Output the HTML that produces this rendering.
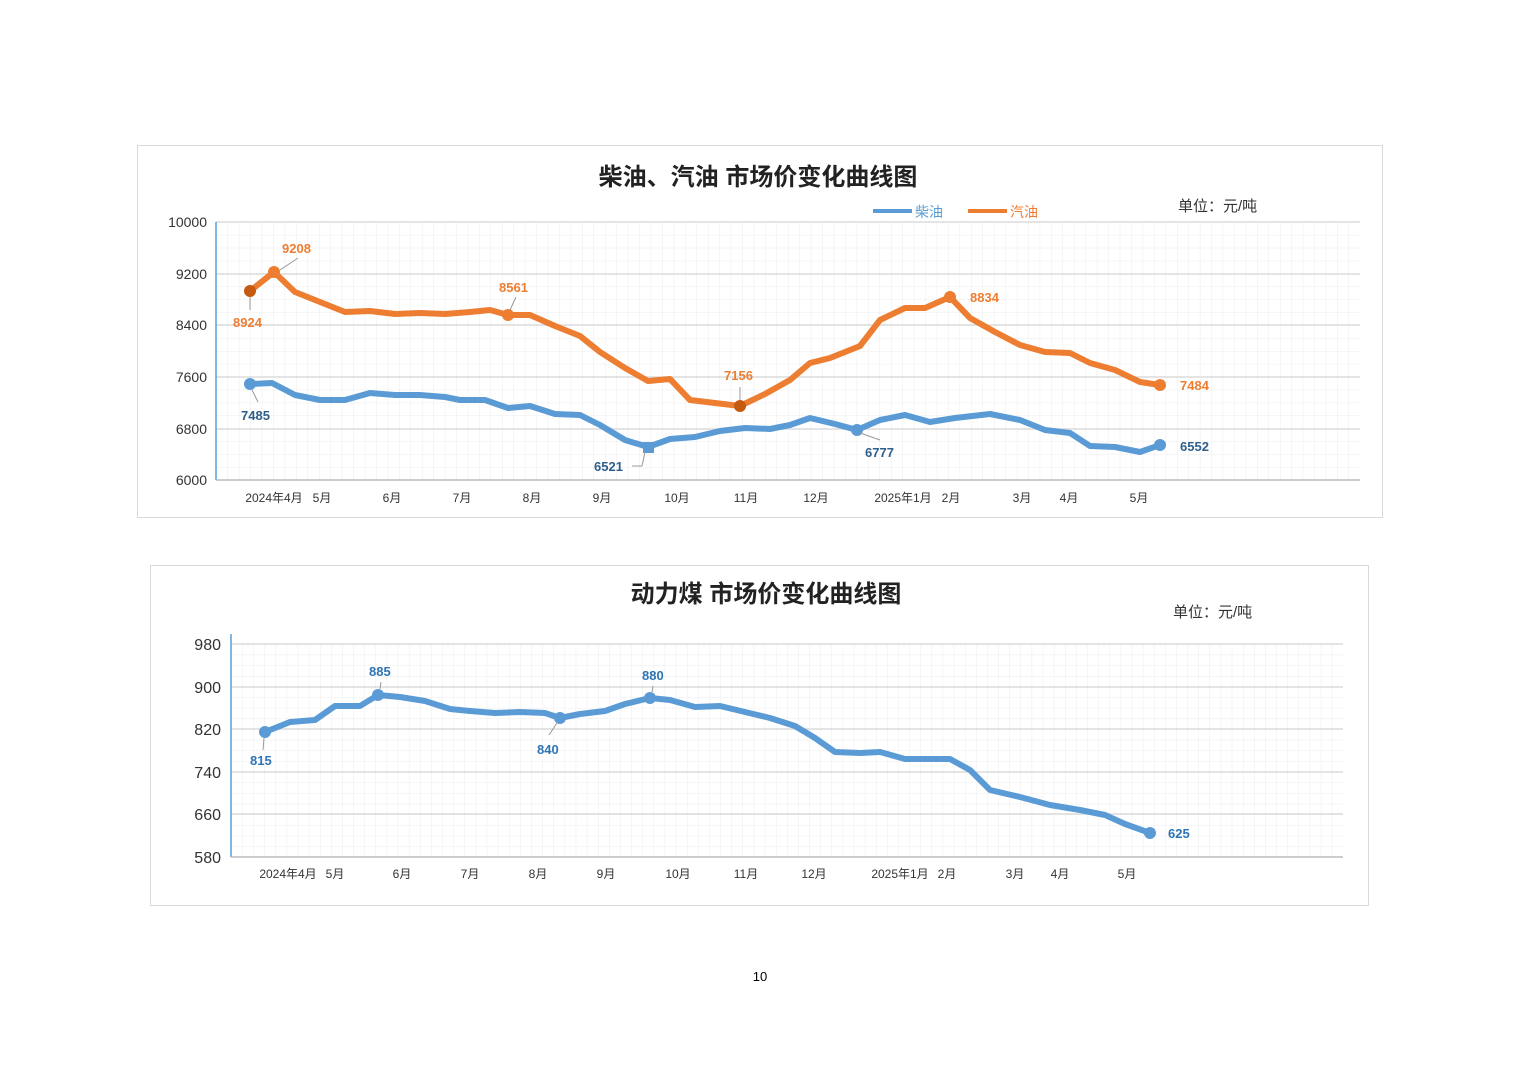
<!DOCTYPE html>
<html><head><meta charset="utf-8"><style>
html,body{margin:0;padding:0;background:#fff;}
svg{display:block;font-family:"Liberation Sans","Noto Sans CJK SC",sans-serif;}
</style></head><body>
<svg width="1520" height="1074" viewBox="0 0 1520 1074" xmlns="http://www.w3.org/2000/svg">
<defs>
<pattern id="g1" x="216" y="222" width="11.44" height="12.9" patternUnits="userSpaceOnUse">
<path d="M0 0V12.9M0 0H11.44" stroke="#ececec" stroke-width="1" fill="none"/></pattern>
<pattern id="g2" x="231" y="644" width="11.12" height="10.65" patternUnits="userSpaceOnUse">
<path d="M0 0V10.65M0 0H11.12" stroke="#ececec" stroke-width="1" fill="none"/></pattern>
</defs>
<rect width="1520" height="1074" fill="#fff"/>
<!-- chart 1 -->
<rect x="137.5" y="145.5" width="1245" height="372" fill="#fff" stroke="#d9d9d9"/>
<text x="758" y="185" font-size="24" font-weight="bold" text-anchor="middle" fill="#222">柴油、汽油 市场价变化曲线图</text>
<line x1="873" y1="211" x2="912" y2="211" stroke="#5b9bd5" stroke-width="4"/>
<text x="915" y="217" font-size="14" fill="#5b9bd5">柴油</text>
<line x1="968" y1="211" x2="1007" y2="211" stroke="#ed7d31" stroke-width="4"/>
<text x="1010" y="217" font-size="14" fill="#ed7d31">汽油</text>
<text x="1178" y="211" font-size="15" fill="#333">单位：元/吨</text>
<rect x="216" y="222" width="1144" height="258" fill="url(#g1)"/>
<g stroke="#dcdcdc" stroke-width="1.5">
<line x1="216" y1="222" x2="1360" y2="222"/><line x1="216" y1="274" x2="1360" y2="274"/>
<line x1="216" y1="325" x2="1360" y2="325"/><line x1="216" y1="377" x2="1360" y2="377"/>
<line x1="216" y1="429" x2="1360" y2="429"/>
</g>
<line x1="216" y1="222" x2="216" y2="480" stroke="#5b9bd5" stroke-width="1.5"/>
<line x1="216" y1="480" x2="1360" y2="480" stroke="#bbb" stroke-width="1.5"/>
<g font-size="14" fill="#333" text-anchor="end">
<text x="207" y="227">10000</text><text x="207" y="279">9200</text><text x="207" y="330">8400</text>
<text x="207" y="382">7600</text><text x="207" y="434">6800</text><text x="207" y="485">6000</text></g>
<g font-size="12" fill="#333" text-anchor="middle">
<text x="274" y="502">2024年4月</text><text x="322" y="502">5月</text><text x="392" y="502">6月</text>
<text x="462" y="502">7月</text><text x="532" y="502">8月</text><text x="602" y="502">9月</text>
<text x="677" y="502">10月</text><text x="746" y="502">11月</text><text x="816" y="502">12月</text>
<text x="903" y="502">2025年1月</text><text x="951" y="502">2月</text><text x="1022" y="502">3月</text>
<text x="1069" y="502">4月</text><text x="1139" y="502">5月</text></g>
<polyline fill="none" stroke="#ed7d31" stroke-width="6" stroke-linejoin="round" stroke-linecap="round" points="250,291 274,272 295,292 320,302 345,312 370,311 395,314 420,313 445,314 470,312 490,310 508,315 530,315 555,326 580,336 600,352 625,368 648,381 670,379 690,400 715,403 740,406 765,394 790,380 810,363 830,358 860,346 880,320 905,308 925,308 950,297 970,318 995,332 1020,345 1045,352 1070,353 1090,363 1115,370 1140,382 1160,385"/>
<polyline fill="none" stroke="#5b9bd5" stroke-width="6" stroke-linejoin="round" stroke-linecap="round" points="250,384 272,383 295,395 320,400 345,400 370,393 395,395 420,395 445,397 460,400 485,400 508,408 530,406 555,414 580,415 600,425 625,440 648,447 670,439 695,437 720,431 745,428 770,429 790,425 810,418 835,424 857,430 880,420 905,415 930,422 955,418 990,414 1020,420 1045,430 1070,433 1090,446 1115,447 1140,452 1160,445"/>
<g fill="#c55a11"><circle cx="250" cy="291" r="6"/><circle cx="740" cy="406" r="6"/></g>
<g fill="#ed7d31"><circle cx="274" cy="272" r="6"/><circle cx="508" cy="315" r="6"/><circle cx="950" cy="297" r="6"/><circle cx="1160" cy="385" r="6"/></g>
<g fill="#5b9bd5"><circle cx="250" cy="384" r="6"/><rect x="643" y="442" width="11" height="11"/><circle cx="857" cy="430" r="6"/><circle cx="1160" cy="445" r="6"/></g>
<g stroke="#999" stroke-width="1"><line x1="250" y1="297" x2="250" y2="310"/><line x1="280" y1="270" x2="298" y2="258"/><line x1="510" y1="310" x2="516" y2="297"/><line x1="740" y1="400" x2="740" y2="387"/><line x1="252" y1="390" x2="258" y2="402"/><line x1="632" y1="466" x2="642" y2="466"/><line x1="642" y1="466" x2="645" y2="452"/><line x1="860" y1="433" x2="880" y2="440"/></g>
<g font-size="13" font-weight="bold" fill="#ed7d31">
<text x="233" y="327">8924</text><text x="282" y="253">9208</text><text x="499" y="292">8561</text>
<text x="724" y="380">7156</text><text x="970" y="302">8834</text><text x="1180" y="390">7484</text></g>
<g font-size="13" font-weight="bold" fill="#2e5f8a">
<text x="241" y="420">7485</text><text x="594" y="471">6521</text><text x="865" y="457">6777</text><text x="1180" y="451">6552</text></g>
<!-- chart 2 -->
<rect x="150.5" y="565.5" width="1218" height="340" fill="#fff" stroke="#d9d9d9"/>
<text x="766" y="602" font-size="24" font-weight="bold" text-anchor="middle" fill="#222">动力煤 市场价变化曲线图</text>
<text x="1173" y="617" font-size="15" fill="#333">单位：元/吨</text>
<rect x="231" y="644" width="1112" height="213" fill="url(#g2)"/>
<g stroke="#dcdcdc" stroke-width="1.5">
<line x1="231" y1="644" x2="1343" y2="644"/><line x1="231" y1="687" x2="1343" y2="687"/>
<line x1="231" y1="729" x2="1343" y2="729"/><line x1="231" y1="772" x2="1343" y2="772"/>
<line x1="231" y1="814" x2="1343" y2="814"/></g>
<line x1="231" y1="634" x2="231" y2="857" stroke="#5b9bd5" stroke-width="1.5"/>
<line x1="231" y1="857" x2="1343" y2="857" stroke="#bbb" stroke-width="1.5"/>
<g font-size="16" fill="#333" text-anchor="end">
<text x="221" y="650">980</text><text x="221" y="693">900</text><text x="221" y="735">820</text>
<text x="221" y="778">740</text><text x="221" y="820">660</text><text x="221" y="863">580</text></g>
<g font-size="12" fill="#333" text-anchor="middle">
<text x="288" y="878">2024年4月</text><text x="335" y="878">5月</text><text x="402" y="878">6月</text>
<text x="470" y="878">7月</text><text x="538" y="878">8月</text><text x="606" y="878">9月</text>
<text x="678" y="878">10月</text><text x="746" y="878">11月</text><text x="814" y="878">12月</text>
<text x="900" y="878">2025年1月</text><text x="947" y="878">2月</text><text x="1015" y="878">3月</text>
<text x="1060" y="878">4月</text><text x="1127" y="878">5月</text></g>
<polyline fill="none" stroke="#5b9bd5" stroke-width="6" stroke-linejoin="round" stroke-linecap="round" points="265,732 290,722 315,720 335,706 360,706 378,695 400,697 425,701 450,709 470,711 495,713 520,712 545,713 560,718 580,714 605,711 625,704 650,698 670,700 695,707 720,706 745,712 770,718 795,726 815,738 835,752 860,753 880,752 905,759 925,759 950,759 970,770 990,790 1020,797 1050,805 1080,810 1105,815 1125,824 1150,833"/>
<g fill="#5b9bd5"><circle cx="265" cy="732" r="6"/><circle cx="378" cy="695" r="6"/><circle cx="560" cy="718" r="6"/><circle cx="650" cy="698" r="6"/><circle cx="1150" cy="833" r="6"/></g>
<g stroke="#999" stroke-width="1"><line x1="264" y1="738" x2="263" y2="750"/><line x1="380" y1="689" x2="381" y2="682"/><line x1="557" y1="723" x2="549" y2="735"/><line x1="652" y1="692" x2="653" y2="686"/></g>
<g font-size="13" font-weight="bold" fill="#2e75b6">
<text x="250" y="765">815</text><text x="369" y="676">885</text><text x="537" y="754">840</text>
<text x="642" y="680">880</text><text x="1168" y="838">625</text></g>
<text x="760" y="981" font-size="13" text-anchor="middle" fill="#000">10</text>
</svg>
</body></html>
